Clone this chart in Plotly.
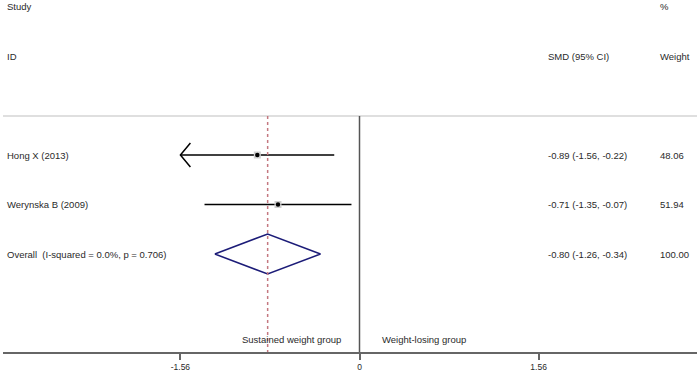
import plotly.graph_objects as go

# ---- data ----
studies = ["Hong X (2013)", "Werynska B (2009)"]
smd = [-0.89, -0.71]
ci_low = [-1.56, -1.35]
ci_high = [-0.22, -0.07]
weights = ["48.06", "51.94"]
overall_label = "Overall  (I-squared = 0.0%, p = 0.706)"
overall_smd = -0.80
overall_low = -1.26
overall_high = -0.34
overall_weight = "100.00"
tick_vals = [-1.56, 0, 1.56]
tick_text = ["-1.56", "0", "1.56"]
left_label = "Sustained weight group"
right_label = "Weight-losing group"

# ---- layout helpers ----
W, H = 700, 377
ML, MR, MT, MB = 3, 3, 0, 25
plot_w = W - ML - MR
plot_h = H - MT - MB
px_per_unit = 114.8
zero_px = 359.5
xmin = (ML - zero_px) / px_per_unit
xmax = (W - MR - zero_px) / px_per_unit
row_h = 49.5
row0_px = 155.0
ytop = -(row0_px - MT) / row_h
ybot = (H - MB - row0_px) / row_h
top_line_y = -39.0 / row_h
font_fam = "Liberation Sans, Arial, sans-serif"
fs = 9.5
tc = "#2a2a2a"

fig = go.Figure()

rows = list(range(len(studies)))
overall_row = len(studies)

# reference lines
fig.add_shape(type="line", xref="paper", yref="y", x0=0, x1=1, y0=top_line_y, y1=top_line_y,
              line=dict(color="#d4d4d4", width=1.5))
fig.add_shape(type="line", xref="x", yref="y", x0=0, x1=0, y0=top_line_y, y1=ybot,
              line=dict(color="#555555", width=1.5))
fig.add_shape(type="line", xref="x", yref="y", x0=overall_smd, x1=overall_smd, y0=top_line_y, y1=ybot,
              line=dict(color="#c47880", width=1.5, dash="3px,3px"))

# study CI lines
for r, lo, hi, es in zip(rows, ci_low, ci_high, smd):
    fig.add_trace(go.Scatter(x=[lo, hi], y=[r, r], mode="lines",
                             line=dict(color="black", width=1.5), hoverinfo="skip"))
    if lo <= tick_vals[0]:
        dx = 10 / px_per_unit
        dy = 12 / row_h
        fig.add_trace(go.Scatter(x=[lo + dx, lo, lo + dx], y=[r - dy, r, r + dy], mode="lines",
                                 line=dict(color="black", width=1.5), hoverinfo="skip"))

# point estimates
fig.add_trace(go.Scatter(x=smd, y=rows, mode="markers",
                         marker=dict(symbol="square", size=7, color="#d0d0d0"), hoverinfo="skip"))
fig.add_trace(go.Scatter(x=smd, y=rows, mode="markers",
                         marker=dict(symbol="circle", size=4.5, color="black"), hoverinfo="skip"))

# overall diamond
dh = 20 / row_h
fig.add_trace(go.Scatter(x=[overall_low, overall_smd, overall_high, overall_smd, overall_low],
                         y=[overall_row, overall_row - dh, overall_row, overall_row + dh, overall_row],
                         mode="lines", line=dict(color="#1c1c78", width=1.5), hoverinfo="skip"))

def txt(x, y, s, xref="paper", anchor="left"):
    fig.add_annotation(x=x, y=y, xref=xref, yref="y", text=s, showarrow=False,
                       xanchor=anchor, yanchor="middle",
                       font=dict(family=font_fam, size=fs, color=tc))

def px_to_paper(px):
    return (px - ML) / plot_w

col_smd = px_to_paper(546)
col_w = px_to_paper(658)
col_l = px_to_paper(5)
hdr1 = -(row0_px - 6.5) / row_h
hdr2 = -(row0_px - 56) / row_h

txt(col_l, hdr1, "Study")
txt(col_l, hdr2, "ID")
txt(col_smd, hdr2, "SMD (95% CI)")
txt(col_w, hdr1, "%")
txt(col_w, hdr2, "Weight")

for r, name, es, lo, hi, w in zip(rows, studies, smd, ci_low, ci_high, weights):
    txt(col_l, r, name)
    txt(col_smd, r, f"{es:.2f} ({lo:.2f}, {hi:.2f})")
    txt(col_w, r, w)
txt(col_l, overall_row, overall_label)
txt(col_smd, overall_row, f"{overall_smd:.2f} ({overall_low:.2f}, {overall_high:.2f})")
txt(col_w, overall_row, overall_weight)

lab_y = (339 - row0_px) / row_h
txt(-17 / px_per_unit, lab_y, left_label, xref="x", anchor="right")
txt(20 / px_per_unit, lab_y, right_label, xref="x", anchor="left")

fig.update_layout(
    width=W, height=H, margin=dict(l=ML, r=MR, t=MT, b=MB),
    paper_bgcolor="white", plot_bgcolor="white", showlegend=False,
    xaxis=dict(range=[xmin, xmax], showgrid=False, zeroline=False, showline=True,
               linecolor="#666666", linewidth=1.5, ticks="outside", ticklen=6,
               tickcolor="#666666", tickwidth=1.5,
               tickvals=tick_vals, ticktext=tick_text,
               tickfont=dict(family=font_fam, size=8.5, color=tc), fixedrange=True),
    yaxis=dict(range=[ybot, ytop], showgrid=False, zeroline=False, showline=False,
               showticklabels=False, ticks="", fixedrange=True),
)

fig.write_html("out.html", config={"displayModeBar": False},
               post_script="document.body.style.margin='0';document.body.style.overflow='hidden';")
